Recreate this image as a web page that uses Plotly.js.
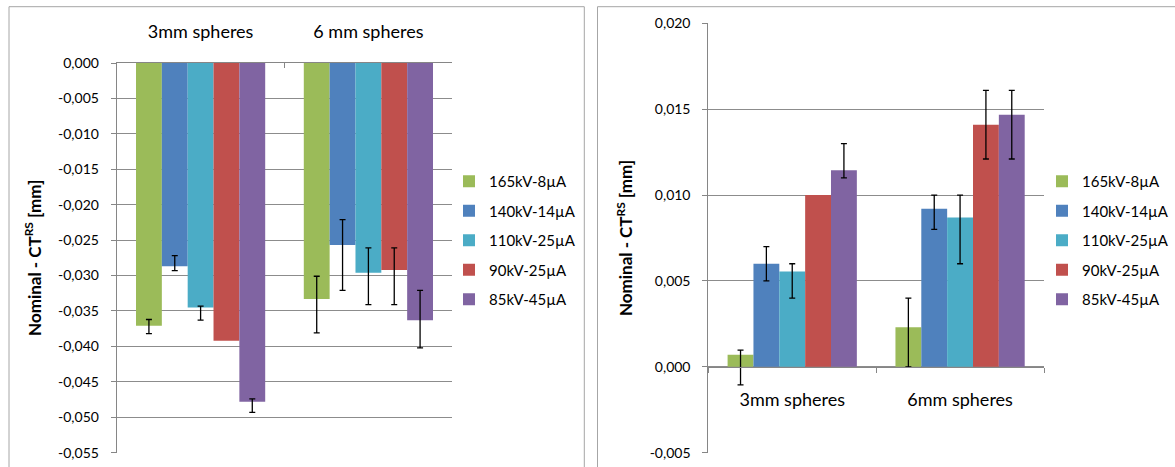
<!DOCTYPE html>
<html>
<head>
<meta charset="utf-8">
<script src="https://cdn.plot.ly/plotly-3.0.1.min.js"></script>
<style>html,body{margin:0;padding:0;background:#fff}#chart{width:1175px;height:467px}</style>
</head>
<body>
<div id="chart"></div>
<script>
// ---- data ----
const seriesNames = ['165kV-8µA', '140kV-14µA', '110kV-25µA', '90kV-25µA', '85kV-45µA'];
const seriesColors = ['#9BBB59', '#4F81BD', '#4BACC6', '#C0504D', '#8064A2'];

const leftCategories = ['3mm spheres', '6 mm spheres'];
const rightCategories = ['3mm spheres', '6mm spheres'];

// left chart values [3mm, 6mm]
const left165 = [-0.0371, -0.0333];
const left140 = [-0.0287, -0.0257];
const left110 = [-0.0345, -0.0296];
const left90  = [-0.0392, -0.0292];
const left85  = [-0.0478, -0.0363];
// left error bar ends (high, low); null = no error bar
const left165High = [-0.0362, -0.0301], left165Low = [-0.0382, -0.0381];
const left140High = [-0.0272, -0.0221], left140Low = [-0.0293, -0.0321];
const left110High = [-0.0343, -0.0261], left110Low = [-0.0363, -0.0341];
const left90High  = [null, -0.0261],    left90Low  = [null, -0.0341];
const left85High  = [-0.0474, -0.0321], left85Low  = [-0.0493, -0.0402];

// right chart values [3mm, 6mm]
const right165 = [0.0007, 0.0023];
const right140 = [0.0060, 0.0092];
const right110 = [0.00555, 0.0087];
const right90  = [0.0100, 0.0141];
const right85  = [0.01145, 0.01467];
const right165High = [0.00097, 0.0040], right165Low = [-0.00105, 0.0000];
const right140High = [0.0070, 0.0100],  right140Low = [0.0050, 0.0080];
const right110High = [0.0060, 0.0100],  right110Low = [0.0040, 0.0060];
const right90High  = [null, 0.0161],    right90Low  = [null, 0.0121];
const right85High  = [0.0130, 0.0161],  right85Low  = [0.0110, 0.0121];

const leftTickVals = [0, -0.005, -0.010, -0.015, -0.020, -0.025, -0.030, -0.035, -0.040, -0.045, -0.050, -0.055];
const leftTickText = ['0,000', '-0,005', '-0,010', '-0,015', '-0,020', '-0,025', '-0,030', '-0,035', '-0,040', '-0,045', '-0,050', '-0,055'];
const rightTickVals = [-0.005, 0, 0.005, 0.010, 0.015, 0.020];
const rightTickText = ['-0,005', '0,000', '0,005', '0,010', '0,015', '0,020'];

const yTitle = '<b>Nominal - CT<sup>RS</sup> [mm]</b>';

// ---- build ----
const W = 1175, H = 467;
const fx = p => p / W;
const fy = p => (H - p) / H;

const leftVals = [left165, left140, left110, left90, left85];
const leftHigh = [left165High, left140High, left110High, left90High, left85High];
const leftLow = [left165Low, left140Low, left110Low, left90Low, left85Low];
const rightVals = [right165, right140, right110, right90, right85];
const rightHigh = [right165High, right140High, right110High, right90High, right85High];
const rightLow = [right165Low, right140Low, right110Low, right90Low, right85Low];

function errObj(vals, hi, lo) {
  return {
    type: 'data', symmetric: false, visible: true,
    array: vals.map((v, i) => hi[i] === null ? NaN : +(hi[i] - v).toFixed(6)),
    arrayminus: vals.map((v, i) => lo[i] === null ? NaN : +(v - lo[i]).toFixed(6)),
    color: '#000', thickness: 1.3, width: 3
  };
}

const traces = [];
seriesNames.forEach((name, k) => {
  traces.push({
    type: 'bar', name: name, x: leftCategories, y: leftVals[k],
    xaxis: 'x', yaxis: 'y', legend: 'legend', legendgroup: 'L' + k,
    marker: {color: seriesColors[k]},
    error_y: errObj(leftVals[k], leftHigh[k], leftLow[k]),
    hoverinfo: 'skip'
  });
});
seriesNames.forEach((name, k) => {
  traces.push({
    type: 'bar', name: name, x: rightCategories, y: rightVals[k],
    xaxis: 'x2', yaxis: 'y2', legend: 'legend2', legendgroup: 'R' + k,
    marker: {color: seriesColors[k]},
    error_y: errObj(rightVals[k], rightHigh[k], rightLow[k]),
    hoverinfo: 'skip'
  });
});

const axisGray = '#868686';
const gridGray = '#8c8c8c';
const lyDom = [fy(452.7), fy(63)];
const ryDom = [fy(452.7), fy(23.3)];
const rRange = [-0.005, 0.020];
const rZeroPos = ryDom[0] + (0 - rRange[0]) / (rRange[1] - rRange[0]) * (ryDom[1] - ryDom[0]);

const layout = {
  width: W, height: H,
  margin: {l: 0, r: 0, t: 0, b: 0},
  paper_bgcolor: '#fff', plot_bgcolor: '#fff',
  font: {family: 'Lato, "Open Sans", sans-serif', size: 14, color: '#000'},
  barmode: 'group', bargap: 0.23, bargroupgap: 0,
  showlegend: true,
  xaxis: {
    domain: [fx(116.7), fx(452.3)], anchor: 'y', side: 'top', type: 'category',
    tickson: 'boundaries', ticks: 'inside', ticklen: 5, tickcolor: axisGray,
    showline: true, linecolor: axisGray, linewidth: 1, showgrid: false, zeroline: false,
    tickfont: {size: 18}, ticklabelstandoff: 17, fixedrange: true
  },
  yaxis: {
    domain: lyDom, anchor: 'x', range: [-0.055, 0],
    tickvals: leftTickVals, ticktext: leftTickText,
    ticks: 'outside', ticklen: 5, tickcolor: axisGray,
    showline: true, linecolor: axisGray, gridcolor: gridGray, gridwidth: 1, zeroline: false,
    tickfont: {size: 14}, ticklabelstandoff: 9,
    title: {text: yTitle, font: {size: 17}, standoff: 12}, fixedrange: true
  },
  xaxis2: {
    domain: [fx(708.3), fx(1044)], anchor: 'free', position: rZeroPos, side: 'bottom', type: 'category',
    tickson: 'boundaries', ticks: 'outside', ticklen: 5, tickcolor: axisGray,
    showline: true, linecolor: axisGray, linewidth: 1, showgrid: false, zeroline: false,
    tickfont: {size: 18}, ticklabelstandoff: 17, fixedrange: true
  },
  yaxis2: {
    domain: ryDom, anchor: 'x2', range: rRange,
    tickvals: rightTickVals, ticktext: rightTickText,
    ticks: 'outside', ticklen: 5, tickcolor: axisGray,
    showline: true, linecolor: axisGray, gridcolor: gridGray, gridwidth: 1, zeroline: false,
    tickfont: {size: 14}, ticklabelstandoff: 9,
    title: {text: yTitle, font: {size: 17}, standoff: 12}, fixedrange: true
  },
  legend: {
    x: fx(449), y: fy(165), xanchor: 'left', yanchor: 'top',
    font: {size: 15}, tracegroupgap: 7, bgcolor: 'rgba(0,0,0,0)', borderwidth: 0
  },
  legend2: {
    x: fx(1042), y: fy(165), xanchor: 'left', yanchor: 'top',
    font: {size: 15}, tracegroupgap: 7, bgcolor: 'rgba(0,0,0,0)', borderwidth: 0
  },
  shapes: [
    {type: 'rect', xref: 'paper', yref: 'paper', x0: fx(9), x1: fx(584.3), y0: -0.2, y1: fy(6.7),
     line: {color: '#a6a6a6', width: 1}, fillcolor: 'rgba(0,0,0,0)', layer: 'below'},
    {type: 'rect', xref: 'paper', yref: 'paper', x0: fx(597.5), x1: 1.2, y0: -0.2, y1: fy(6.7),
     line: {color: '#a6a6a6', width: 1}, fillcolor: 'rgba(0,0,0,0)', layer: 'below'}
  ]
};

Plotly.newPlot('chart', traces, layout, {staticPlot: true, displayModeBar: false});
</script>
</body>
</html>
